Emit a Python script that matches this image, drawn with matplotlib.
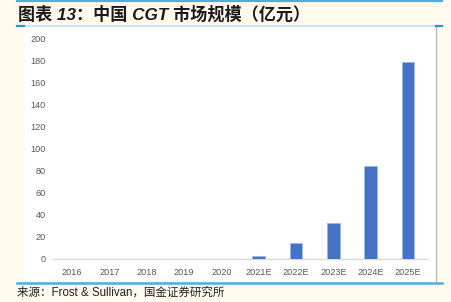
import matplotlib.pyplot as plt
from matplotlib.patches import Rectangle
from matplotlib.lines import Line2D

# market size, 100 million CNY
years = ["2016", "2017", "2018", "2019", "2020", "2021E", "2022E", "2023E", "2024E", "2025E"]
market_size = [0, 0, 0, 0, 0, 2.5, 15, 33, 85, 179]
y_ticks = [0, 20, 40, 60, 80, 100, 120, 140, 160, 180, 200]

TITLE = "图表 13：中国 CGT 市场规模（亿元）"
SOURCE = "来源：Frost & Sullivan，国金证券研究所"

CREAM = "#FFF9EE"
BAR_BLUE = "#4472C4"
LINE_BLUE = "#4BAEE0"
FONTS = ["Liberation Sans", "Noto Sans CJK SC", "DejaVu Sans"]

plt.rcParams["font.family"] = FONTS

W, H = 452, 302
fig = plt.figure(figsize=(W / 100, H / 100), dpi=100)
fig.patch.set_facecolor(CREAM)


def fx(px):
    return px / W


def fy(py):
    return 1 - py / H


# white chart panel with grey right border
fig.patches.append(Rectangle((fx(24), fy(281)), fx(412), fy(27) - fy(281),
                             transform=fig.transFigure, facecolor="white",
                             edgecolor="none", zorder=-5))
fig.lines.append(Line2D([fx(436.5), fx(436.5)], [fy(27), fy(281)],
                        transform=fig.transFigure, color="#BBBBBB", lw=1))

# header / footer rules
fig.lines.append(Line2D([fx(17), fx(442)], [fy(0.8), fy(0.8)],
                        transform=fig.transFigure, color=LINE_BLUE, lw=1.6))
fig.lines.append(Line2D([fx(17), fx(442)], [fy(25.8), fy(25.8)],
                        transform=fig.transFigure, color="#BFE3F4", lw=1.2))
for x0, x1 in [(17, 24), (436, 442)]:
    fig.lines.append(Line2D([fx(x0), fx(x1)], [fy(26), fy(26)],
                            transform=fig.transFigure, color="#1E96D8", lw=1.6))
fig.lines.append(Line2D([fx(17), fx(442)], [fy(282.8), fy(282.8)],
                        transform=fig.transFigure, color=LINE_BLUE, lw=1.8))

fig.text(fx(18), fy(13.5), TITLE, fontsize=12.3, fontweight="bold",
         color="#1A1A1A", va="center", ha="left", style="italic")
fig.text(fx(17), fy(293), SOURCE, fontsize=8.3, color="#222222",
         va="center", ha="left")

ax = fig.add_axes([fx(53.4), fy(259), fx(373.3), fy(39) - fy(259)])
ax.set_zorder(2)
ax.set_facecolor("none")
x = list(range(len(years)))
ax.bar(x, market_size, width=0.34, color=BAR_BLUE, edgecolor="#9DB6E4",
       linewidth=0.5, zorder=3)

ax.set_xlim(-0.5, len(years) - 0.5)
ax.set_ylim(0, 200)
ax.set_yticks(y_ticks)
ax.set_xticks(x)
ax.set_xticklabels(years)
for side in ["top", "right", "left"]:
    ax.spines[side].set_visible(False)
ax.spines["bottom"].set_color("#D9D9D9")
ax.spines["bottom"].set_linewidth(1)
ax.tick_params(axis="both", length=0, labelsize=6.6, labelcolor="#595959")
ax.tick_params(axis="y", pad=5.5)
ax.tick_params(axis="x", pad=6.5)

fig.savefig("out.png", dpi=100, facecolor=CREAM)
